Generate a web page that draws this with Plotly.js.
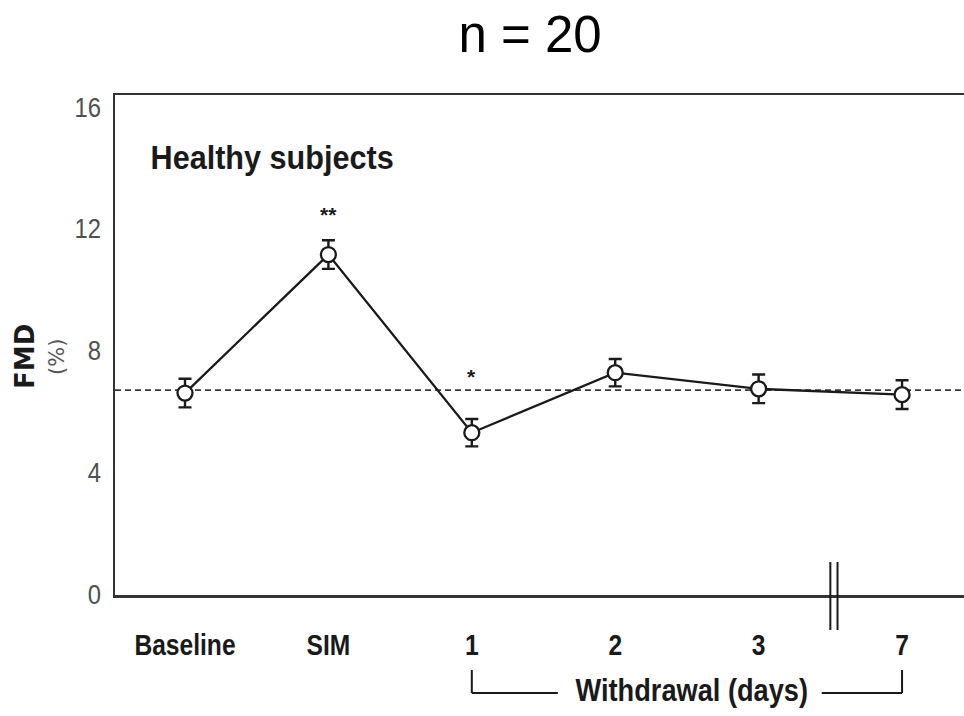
<!DOCTYPE html>
<html>
<head>
<meta charset="utf-8">
<script src="https://cdn.plot.ly/plotly-3.0.1.min.js"></script>
<style>
html,body{margin:0;padding:0;background:#fff;}
#chart{width:964px;height:716px;}
</style>
</head>
<body>
<div id="chart"></div>
<script>
// ---- data ----
const categories = ["Baseline", "SIM", "1", "2", "3", "7"];
const fmdMean = [6.6, 11.15, 5.3, 7.27, 6.74, 6.55];
const fmdSem = [0.47, 0.47, 0.45, 0.45, 0.47, 0.47];
const significance = ["", "**", "*", "", "", ""];
const sigLevel = [null, 12.45, 7.15, null, null, null];
const referenceLevel = 6.7;
const yTicks = [0, 4, 8, 12, 16];
const chartTitle = "n = 20";
const panelLabel = "Healthy subjects";
const withdrawalLabel = "Withdrawal (days)";
const yTitleMain = "FMD";
const yTitleUnit = "(%)";

const xIdx = categories.map((c, i) => i);
const sans = '"Liberation Sans", Arial, sans-serif';
const ink = '#1a1a1a';

// plot geometry helpers (pixels -> paper)
const PL = 115, PW = 849, PT = 95, PH = 500;
const px2paperX = p => (p - PL) / PW;
const px2paperY = p => (PT + PH - p) / PH;

const trace = {
  x: xIdx,
  y: fmdMean,
  type: 'scatter',
  mode: 'lines+markers',
  line: {color: ink, width: 2.3},
  marker: {symbol: 'circle', size: 15, color: '#ffffff', line: {color: ink, width: 2.3}},
  error_y: {type: 'data', array: fmdSem, visible: true, color: ink, thickness: 2.4, width: 6.5},
  cliponaxis: false,
  hoverinfo: 'skip'
};

const annotations = [];
significance.forEach((s, i) => {
  if (s) annotations.push({x: xIdx[i], y: sigLevel[i], xref: 'x', yref: 'y', text: '<b>' + s + '</b>', showarrow: false,
    font: {family: sans, size: 21, color: ink}});
});
annotations.push({x: px2paperX(272), y: px2paperY(157), xref: 'paper', yref: 'paper', xanchor: 'center', yanchor: 'middle',
  text: '<b>' + panelLabel + '</b>', showarrow: false, font: {family: sans, size: 34, color: ink}});
annotations.push({x: px2paperX(25), y: px2paperY(357), xref: 'paper', yref: 'paper', xanchor: 'center', yanchor: 'middle',
  showarrow: false, textangle: -90, text: '<b>' + yTitleMain + '</b>',
  font: {family: '"DejaVu Sans", Arial, sans-serif', size: 26, color: ink}});
annotations.push({x: px2paperX(57), y: px2paperY(357), xref: 'paper', yref: 'paper', xanchor: 'center', yanchor: 'middle',
  showarrow: false, textangle: -90, text: yTitleUnit,
  font: {family: '"DejaVu Sans", Arial, sans-serif', size: 21, color: '#555'}});
annotations.push({x: 3.536, y: px2paperY(690), xref: 'x', yref: 'paper', xanchor: 'center', yanchor: 'middle',
  text: '<b>' + withdrawalLabel + '</b>', showarrow: false, font: {family: sans, size: 32, color: ink}});

const brTop = px2paperY(670), brBot = px2paperY(693);
const breakTop = px2paperY(562), breakBot = px2paperY(630);
const shapes = [
  {type: 'line', xref: 'paper', x0: 0, x1: 1, yref: 'y', y0: referenceLevel, y1: referenceLevel,
   line: {color: '#3a3a3a', width: 1.7, dash: '6px,4px'}, layer: 'below'},
  {type: 'line', xref: 'x', yref: 'paper', x0: xIdx[2], x1: xIdx[2], y0: brTop, y1: brBot, line: {color: ink, width: 2}},
  {type: 'line', xref: 'x', yref: 'paper', x0: xIdx[2], x1: 2.6, y0: brBot, y1: brBot, line: {color: ink, width: 2}},
  {type: 'line', xref: 'x', yref: 'paper', x0: 4.44, x1: xIdx[5], y0: brBot, y1: brBot, line: {color: ink, width: 2}},
  {type: 'line', xref: 'x', yref: 'paper', x0: xIdx[5], x1: xIdx[5], y0: brTop, y1: brBot, line: {color: ink, width: 2}},
  {type: 'line', xref: 'x', yref: 'paper', x0: 4.50, x1: 4.50, y0: breakTop, y1: breakBot, line: {color: ink, width: 2}},
  {type: 'line', xref: 'x', yref: 'paper', x0: 4.55, x1: 4.55, y0: breakTop, y1: breakBot, line: {color: ink, width: 2}}
];

const layout = {
  width: 964, height: 716,
  margin: {l: PL, r: 0, t: PT, b: 716 - PT - PH},
  paper_bgcolor: '#fff', plot_bgcolor: '#fff',
  showlegend: false,
  title: {text: chartTitle, x: 530 / 964, xanchor: 'center', y: 1 - 34 / 716, yanchor: 'middle',
    font: {family: sans, size: 51, color: '#000'}},
  xaxis: {
    range: [-0.488, 5.432], showgrid: false, zeroline: false,
    showline: true, linecolor: '#333', linewidth: 2.5, mirror: true,
    tickvals: xIdx, ticktext: categories.map(c => '<b>' + c + '</b>'),
    ticks: '', ticklabelstandoff: 22,
    tickfont: {family: sans, size: 30, color: ink}
  },
  yaxis: {
    range: [-0.03, 16.39], showgrid: false, zeroline: false,
    showline: true, linecolor: '#333', linewidth: 2.5,
    tickvals: yTicks, ticktext: yTicks.map(String), ticks: '', ticklabelstandoff: 6,
    tickfont: {family: sans, size: 28, color: '#505050'}
  },
  shapes: shapes,
  annotations: annotations
};

function squeeze(el, s, origin) {
  const bb = el.getBBox();
  const ox = origin === 'right' ? bb.x + bb.width : bb.x + bb.width / 2;
  const t = el.getAttribute('transform') || '';
  el.setAttribute('transform', t + ` translate(${ox},0) scale(${s},1) translate(${-ox},0)`);
}

Plotly.newPlot('chart', [trace], layout, {displayModeBar: false, staticPlot: true}).then(gd => {
  gd.querySelectorAll('.xtick text').forEach(el => squeeze(el, 0.82, 'center'));
  gd.querySelectorAll('.ytick text').forEach(el => squeeze(el, 0.85, 'right'));
  gd.querySelectorAll('.annotation-text').forEach(el => {
    const txt = el.textContent;
    if (txt === panelLabel) squeeze(el, 0.9, 'center');
    if (txt === withdrawalLabel) squeeze(el, 0.85, 'center');
  });
});
</script>
</body>
</html>
